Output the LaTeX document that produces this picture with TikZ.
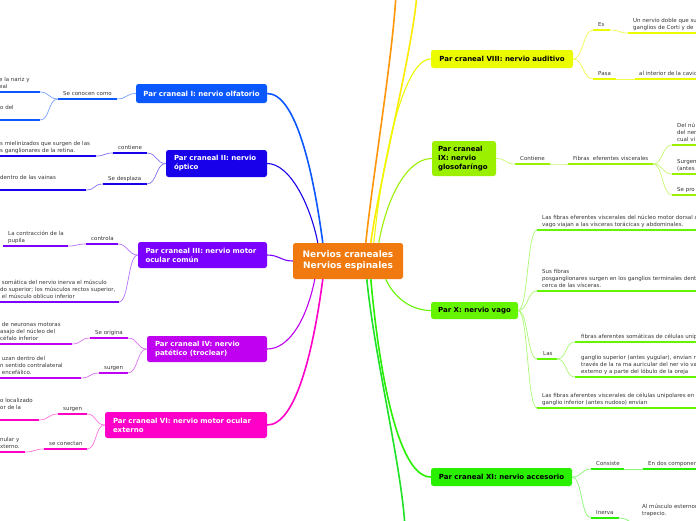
\documentclass[tikz,border=0pt]{standalone}
\usepackage{fontspec}
\setmainfont{DejaVu Sans}
\definecolor{cC}{RGB}{240,122,16}
\definecolor{cI}{RGB}{12,88,255}
\definecolor{cII}{RGB}{24,0,235}
\definecolor{cIII}{RGB}{122,0,255}
\definecolor{cIV}{RGB}{192,0,240}
\definecolor{cVI}{RGB}{255,0,200}
\definecolor{cOr}{RGB}{255,150,10}
\definecolor{cYe}{RGB}{255,235,0}
\definecolor{cVIII}{RGB}{236,252,0}
\definecolor{cIX}{RGB}{155,240,0}
\definecolor{cX}{RGB}{102,245,0}
\definecolor{cXI}{RGB}{40,240,0}
\definecolor{cBot}{RGB}{30,225,40}
\definecolor{txt}{RGB}{55,55,55}
\tikzset{
 mainbox/.style={rounded corners=2.5pt, inner sep=0pt, font=\bfseries\fontsize{7}{9}\selectfont},
 leaf/.style={inner sep=0pt, anchor=south west, align=left, text=txt, text depth=1.5pt, font=\fontsize{5.5}{7}\selectfont},
 ulin/.style={line width=2.3pt},
 conn/.style={line width=0.7pt},
 trunk/.style={line width=1.6pt},
 thintrunk/.style={line width=1.1pt},
}
\newcommand\mmU[5]{\coordinate (#1L) at (#2,#4);\coordinate (#1R) at (#3,#4);\draw[ulin,#5] (#1L) -- (#1R);}
\newcommand\mmR[3]{\draw[conn,#3] (#1) .. controls +(10,0) and +(-10,0) .. (#2);}
\newcommand\mmL[3]{\draw[conn,#3] (#1) .. controls +(-10,0) and +(10,0) .. (#2);}
\begin{document}
\begin{tikzpicture}[x=1pt,y=-1pt]
\useasboundingbox (0,0) rectangle (696,520);
\clip (0,0) rectangle (696,520);
\fill[white] (0,0) rectangle (696,520);

% main nodes
\node[mainbox, fill=cC, text=white, minimum width=110pt, minimum height=36pt, align=center, font=\bfseries\fontsize{9}{11}\selectfont] (c) at (348,261) {Nervios craneales\\Nervios espinales};
\node[mainbox, fill=cI, text=white, minimum width=131pt, minimum height=19pt] (n1) at (201.5,93.5) {Par craneal I: nervio olfatorio};
\node[mainbox, fill=cII, text=white, minimum width=101pt, minimum height=27pt, text width=85pt, align=left] (n2) at (216.5,163.5) {Par craneal II: nervio\\óptico};
\node[mainbox, fill=cIII, text=white, minimum width=129pt, minimum height=26pt, text width=114pt, align=left] (n3) at (202.5,255) {\mbox{Par craneal III: nervio motor}\\ocular común};
\node[mainbox, fill=cIV, text=white, minimum width=120pt, minimum height=26pt, text width=104pt, align=left] (n4) at (207,349) {Par craneal IV: nervio\\patético (troclear)};
\node[mainbox, fill=cVI, text=white, minimum width=162pt, minimum height=26pt, text width=146pt, align=left] (n6) at (186,425) {\mbox{Par craneal VI: nervio motor ocular}\\externo};
\node[mainbox, fill=cVIII, text=black, minimum width=142pt, minimum height=18pt] (n8) at (502,59) {Par craneal VIII: nervio auditivo};
\node[mainbox, fill=cIX, text=black, minimum width=64pt, minimum height=35pt, text width=52pt, align=left] (n9) at (464,158.5) {\mbox{Par craneal}\\IX: nervio\\\mbox{glosofaríngo}};
\node[mainbox, fill=cX, text=black, minimum width=87pt, minimum height=17pt] (n10) at (474.5,310.5) {Par X: nervio vago};
\node[mainbox, fill=cXI, text=black, minimum width=141pt, minimum height=18pt] (n11) at (501.5,477) {Par craneal XI: nervio accesorio};

% trunks from centre
\coordinate (topO) at (396,-6);
\coordinate (topY) at (417,-6);
\coordinate (botG) at (405,528);
\draw[trunk,cOr] ([xshift=73pt]c.north west) .. controls +(6,-60) and +(-3,60) .. (topO);
\draw[trunk,cYe] ([xshift=78pt]c.north west) .. controls +(8,-60) and +(-5,60) .. (topY);
\draw[trunk,cI] (n1.east) .. controls +(28,0) and +(-10,-75) .. ([xshift=30pt]c.north west);
\draw[thintrunk,cII] (n2.east) .. controls +(22,0) and +(-8,-40) .. ([xshift=25pt]c.north west);
\draw[thintrunk,cIII] (n3.east) .. controls +(12,0) and +(-12,0) .. (c.west);
\draw[thintrunk,cIV] (n4.east) .. controls +(22,0) and +(-8,40) .. ([xshift=22pt]c.south west);
\draw[trunk,cVI] (n6.east) .. controls +(28,0) and +(-10,75) .. ([xshift=30pt]c.south west);
\draw[thintrunk,cVIII] ([xshift=81pt]c.north west) .. controls +(8,-80) and +(-28,0) .. (n8.west);
\draw[thintrunk,cIX] ([xshift=86pt]c.north west) .. controls +(8,-45) and +(-25,0) .. (n9.west);
\draw[thintrunk,cX] ([xshift=93pt]c.south west) .. controls +(8,18) and +(-20,0) .. (n10.west);
\draw[trunk,cXI] ([xshift=78pt]c.south west) .. controls +(10,110) and +(-30,0) .. (n11.west);
\draw[trunk,cBot] ([xshift=74pt]c.south west) .. controls +(8,80) and +(-3,-60) .. (botG);

% ---- Par I
\mmU{uIa}{58}{117}{99}{cI}
\mmU{uIb}{-3}{40}{92}{cI}
\mmU{uIc}{-3}{40}{120}{cI}
\node[leaf] (tIa) at (63,97) {Se conocen como};
\node[leaf] (tIb) at (-1,90) {e la nariz y\\eal};
\node[leaf] (tIc) at (0,111) {o del};
\mmL{n1.west}{uIaR}{cI!55}
\mmL{uIaL}{uIbR}{cI!55}
\mmL{uIaL}{uIcR}{cI!55}

% ---- Par II
\mmU{uIIa}{113}{147}{153}{cII}
\mmU{uIIb}{-3}{96}{156}{cII}
\mmU{uIIc}{103}{147}{184}{cII}
\mmU{uIId}{-3}{86}{190}{cII}
\node[leaf] (tIIa) at (118,151) {contiene};
\node[leaf] (tIIb) at (0,154) {s mielinizados que surgen de las\\s ganglionares de la retina.};
\node[leaf] (tIIc) at (108,182) {Se desplaza};
\node[leaf] (tIId) at (0,181) {dentro de las vainas};
\mmL{n2.west}{uIIaR}{cII!55}
\mmL{n2.west}{uIIcR}{cII!55}
\mmL{uIIaL}{uIIbR}{cII!55}
\mmL{uIIcL}{uIIdR}{cII!55}

% ---- Par III
\mmU{uIIIa}{86}{118}{244}{cIII}
\mmU{uIIIb}{3}{68}{246}{cIII}
\mmU{uIIIc}{-3}{119}{302}{cIII}
\node[leaf] (tIIIa) at (91,242) {controla};
\node[leaf] (tIIIb) at (8,244) {La contracción de la\\pupila};
\node[leaf] (tIIIc) at (0,300) {\ somática del nervio inerva el músculo\\do superior; los músculos rectos superior,\\\ el músculo oblicuo inferior};
\mmL{n3.west}{uIIIaR}{cIII!55}
\mmL{n3.west}{uIIIcR}{cIII!55}
\mmL{uIIIaL}{uIIIbR}{cIII!55}

% ---- Par IV
\mmU{uIVa}{90}{128}{338}{cIV}
\mmU{uIVb}{-3}{72}{344}{cIV}
\mmU{uIVc}{99}{128}{373}{cIV}
\mmU{uIVd}{-3}{81}{378}{cIV}
\node[leaf] (tIVa) at (95,336) {Se origina};
\node[leaf] (tIVb) at (0,342) {\ de neuronas motoras\\asajo del núcleo del\\céfalo inferior};
\node[leaf] (tIVc) at (104,371) {surgen};
\node[leaf] (tIVd) at (0,376) {\ uzan dentro del\\n sentido contralateral\\\ encefálico.};
\mmL{n4.west}{uIVaR}{cIV!55}
\mmL{n4.west}{uIVcR}{cIV!55}
\mmL{uIVaL}{uIVbR}{cIV!55}
\mmL{uIVcL}{uIVdR}{cIV!55}

% ---- Par VI
\mmU{uVIa}{58}{87}{414}{cVI}
\mmU{uVIb}{-3}{39}{420}{cVI}
\mmU{uVIc}{44}{87}{449}{cVI}
\mmU{uVId}{-3}{25}{452}{cVI}
\node[leaf] (tVIa) at (63,412) {surgen};
\node[leaf] (tVIb) at (0,411) {o localizado\\or de la};
\node[leaf] (tVIc) at (49,447) {se conectan};
\node[leaf] (tVId) at (0,450) {nular y\\xterno.};
\mmL{n6.west}{uVIaR}{cVI!55}
\mmL{n6.west}{uVIcR}{cVI!55}
\mmL{uVIaL}{uVIbR}{cVI!55}
\mmL{uVIcL}{uVIdR}{cVI!55}

% ---- Par VIII
\mmU{uVIIIa}{593}{610}{30}{cVIII}
\mmU{uVIIIb}{628}{700}{33}{cVIII}
\mmU{uVIIIc}{593}{616}{79}{cVIII}
\mmU{uVIIId}{635}{700}{79}{cVIII}
\node[leaf] (tVIIIa) at (598,28) {Es};
\node[leaf] (tVIIIb) at (633,31) {Un nervio doble que su\\ganglios de Corti y de};
\node[leaf] (tVIIIc) at (598,77) {Pasa};
\node[leaf] (tVIIId) at (639,77) {al interior de la cavid};
\mmR{n8.east}{uVIIIaL}{cVIII!70}
\mmR{n8.east}{uVIIIcL}{cVIII!70}
\mmR{uVIIIaR}{uVIIIbL}{cVIII!70}
\mmR{uVIIIcR}{uVIIIdL}{cVIII!70}

% ---- Par IX
\mmU{uIXa}{515}{550}{164}{cIX}
\mmU{uIXb}{568}{653}{164}{cIX}
\mmU{uIXc}{672}{700}{145}{cIX}
\mmU{uIXd}{672}{700}{174}{cIX}
\mmU{uIXe}{672}{700}{195}{cIX}
\node[leaf] (tIXa) at (520,162) {Contiene};
\node[leaf] (tIXb) at (573,162) {Fibras \ eferentes viscerales};
\node[leaf] (tIXc) at (677,143) {Del nú\\del ner\\cual vi};
\node[leaf] (tIXd) at (677,172) {Surgen\\(antes};
\node[leaf] (tIXe) at (677,193) {Se pro};
\mmR{n9.east}{uIXaL}{cIX!55}
\mmR{uIXaR}{uIXbL}{cIX!55}
\mmR{uIXbR}{uIXcL}{cIX!55}
\mmR{uIXbR}{uIXdL}{cIX!55}
\mmR{uIXbR}{uIXeL}{cIX!55}

% ---- Par X
\mmU{uXa}{537}{700}{230}{cX}
\mmU{uXb}{537}{700}{291}{cX}
\mmU{uXc}{537}{557}{359}{cX}
\mmU{uXd}{575}{700}{342}{cX}
\mmU{uXe}{575}{700}{377}{cX}
\mmU{uXf}{537}{700}{408}{cX}
\node[leaf] (tXa) at (542,228) {Las fibras eferentes viscerales del núcleo motor dorsal d\\vago viajan a las vísceras torácicas y abdominales.};
\node[leaf] (tXb) at (542,289) {Sus fibras\\posganglionares surgen en los ganglios terminales dent\\cerca de las vísceras.};
\node[leaf] (tXc) at (543,357) {Las};
\node[leaf] (tXd) at (581,340) {fibras aferentes somáticas de células unip};
\node[leaf] (tXe) at (581,375) {ganglio superior (antes yugular), envían r\\través de la ra ma auricular del ner vio va\\externo y a parte del lóbulo de la oreja};
\node[leaf] (tXf) at (542,406) {Las fibras aferentes viscerales de células unipolares en\\ganglio inferior (antes nudoso) envían};
\mmR{n10.east}{uXaL}{cX!55}
\mmR{n10.east}{uXbL}{cX!55}
\mmR{n10.east}{uXcL}{cX!55}
\mmR{n10.east}{uXfL}{cX!55}
\mmR{uXcR}{uXdL}{cX!55}
\mmR{uXcR}{uXeL}{cX!55}

% ---- Par XI
\mmU{uXIa}{591}{624}{469}{cXI}
\mmU{uXIb}{643}{700}{469}{cXI}
\mmU{uXIc}{591}{619}{518}{cXI}
\coordinate (uXIdL) at (637,523);
\node[leaf] (tXIa) at (596,467) {Consiste};
\node[leaf] (tXIb) at (648,467) {En dos componen};
\node[leaf] (tXIc) at (596,516) {Inerva};
\node[leaf] (tXId) at (642,517) {Al músculo esternoc\\trapecio.};
\mmR{n11.east}{uXIaL}{cXI!55}
\mmR{n11.east}{uXIcL}{cXI!55}
\mmR{uXIaR}{uXIbL}{cXI!55}
\mmR{uXIcR}{uXIdL}{cXI!55}
\end{tikzpicture}
\end{document}
